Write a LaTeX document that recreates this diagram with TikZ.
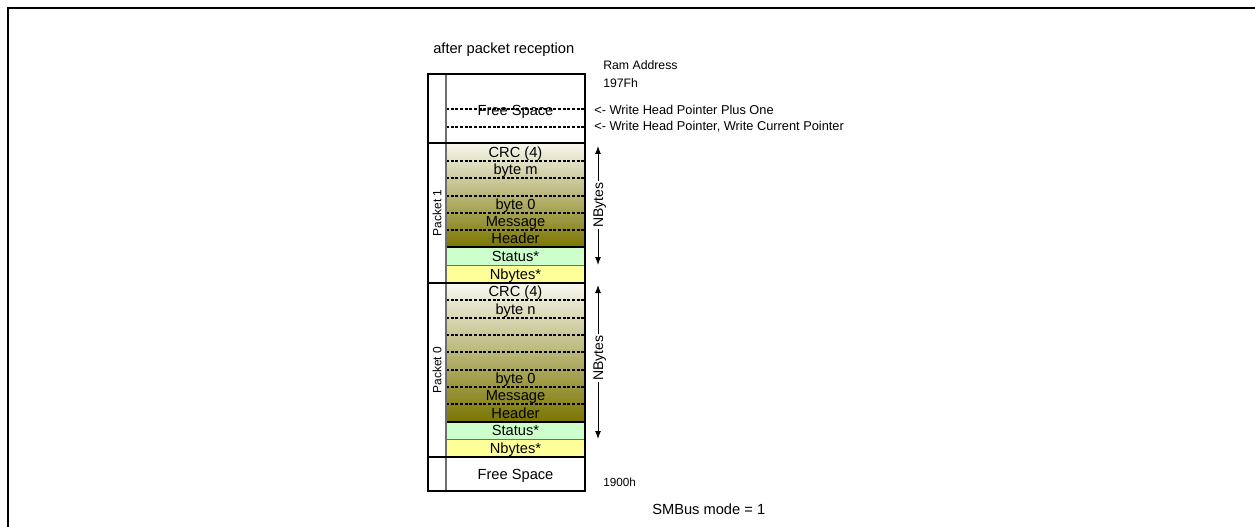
\documentclass[tikz,border=0pt]{standalone}
\usepackage{fontspec}
\setmainfont{Liberation Sans}
\usetikzlibrary{arrows.meta}
\definecolor{statusgreen}{RGB}{204,255,204}
\definecolor{nbyellow}{RGB}{255,255,153}
\definecolor{olivetop}{RGB}{248,248,240}
\definecolor{olivebot}{RGB}{122,117,0}
\definecolor{divgray}{RGB}{110,110,110}
\begin{document}
\begin{tikzpicture}[x=0.75pt,y=-0.75pt,
  rowtxt/.style={font=\fontsize{11}{13}\selectfont, inner sep=0pt, text height=7.9pt, text depth=0pt},
  smalltxt/.style={font=\fontsize{9.2}{11}\selectfont, inner sep=0pt, text height=6.6pt, text depth=0pt, anchor=west},
  pkttxt/.style={font=\fontsize{9}{11}\selectfont, inner sep=0pt, rotate=90, text height=6.5pt, text depth=0pt},
  nbtxt/.style={font=\fontsize{10.5}{12}\selectfont, inner sep=1pt, rotate=90, fill=white, text height=7.5pt, text depth=0pt},
  dline/.style={line width=0.8pt, dash pattern=on 2.2pt off 1.3pt},
  thinsolid/.style={line width=0.8pt},
  graysolid/.style={line width=0.6pt, draw=divgray},
  boundary/.style={line width=1.2pt},
  arr/.style={line width=0.75pt, {Latex[length=6pt,width=4.5pt]}-{Latex[length=6pt,width=4.5pt]}}
]
\useasboundingbox (0,0) rectangle (1255,527);
\fill[white] (0,0) rectangle (1255,527);
% frame
\draw[line width=1.4pt] (8,527) -- (8,8) -- (1255,8);

% fills
\shade[top color=olivetop, bottom color=olivebot] (446,143) rectangle (585,247);
\fill[statusgreen] (446,247) rectangle (585,265);
\fill[nbyellow] (446,265) rectangle (585,283);
\shade[top color=olivetop, bottom color=olivebot] (446,283) rectangle (585,422);
\fill[statusgreen] (446,422) rectangle (585,439);
\fill[nbyellow] (446,439) rectangle (585,457);

% dashed separators
\foreach \yy in {109,127,161,178,196,213,230,300,318,335,352,370,387,404}
  \draw[dline] (446,\yy) -- (585,\yy);
% thin solid separators
\draw[thinsolid] (446,247) -- (585,247);
\draw[thinsolid] (446,422) -- (585,422);
\draw[graysolid] (446,265) -- (585,265);
\draw[graysolid] (446,439) -- (585,439);

% column divider
\draw[line width=0.8pt, divgray] (446,74) -- (446,491);
% packet boundaries
\foreach \yy in {143,283,457}
  \draw[boundary] (428,\yy) -- (585,\yy);
% outer box
\draw[boundary] (428,74) rectangle (585,491);

% row texts
\node[rowtxt] (fs1) at (515.5,110) {Free Space};
\node[rowtxt] (crc1) at (515.5,152) {CRC (4)};
\node[rowtxt] (bm) at (515.5,169.5) {byte m};
\node[rowtxt] (b01) at (515.5,204.5) {byte 0};
\node[rowtxt] (msg1) at (515.5,221.5) {Message};
\node[rowtxt] (hdr1) at (515.5,238.5) {Header};
\node[rowtxt] (st1) at (515.5,256) {Status*};
\node[rowtxt] (nb1) at (515.5,274) {Nbytes*};
\node[rowtxt] (crc0) at (515.5,291.5) {CRC (4)};
\node[rowtxt] (bn) at (515.5,309) {byte n};
\node[rowtxt] (b00) at (515.5,378.5) {byte 0};
\node[rowtxt] (msg0) at (515.5,395.5) {Message};
\node[rowtxt] (hdr0) at (515.5,413) {Header};
\node[rowtxt] (st0) at (515.5,430.5) {Status*};
\node[rowtxt] (nb0) at (515.5,448) {Nbytes*};
\node[rowtxt] (fs0) at (515.5,474) {Free Space};

% packet labels
\node[pkttxt] (p1) at (437,213) {Packet 1};
\node[pkttxt] (p0) at (437,370) {Packet 0};

% NBytes arrows
\coordinate (a1t) at (598,146);
\coordinate (a1b) at (598,265);
\coordinate (a0t) at (598,285);
\coordinate (a0b) at (598,439);
\draw[arr] (a1t) -- (a1b);
\node[nbtxt] (nbl1) at (598,205) {NBytes};
\draw[arr] (a0t) -- (a0b);
\node[nbtxt] (nbl0) at (598,358) {NBytes};

% titles and annotations
\node[rowtxt, anchor=west] (title) at (433,48) {after packet reception};
\node[smalltxt] (ram) at (603,65) {Ram Address};
\node[smalltxt] (top) at (603,83) {197Fh};
\node[smalltxt, font=\fontsize{9.6}{11}\selectfont] (wh1) at (594,110) {<- Write Head Pointer Plus One};
\node[smalltxt, font=\fontsize{9.6}{11}\selectfont] (wh) at (594,126.5) {<- Write Head Pointer, Write Current Pointer};
\node[smalltxt, font=\fontsize{8.8}{11}\selectfont] (bot) at (603,482) {1900h};
\node[rowtxt, anchor=west] (mode) at (652,509) {SMBus mode = 1};
\end{tikzpicture}
\end{document}
